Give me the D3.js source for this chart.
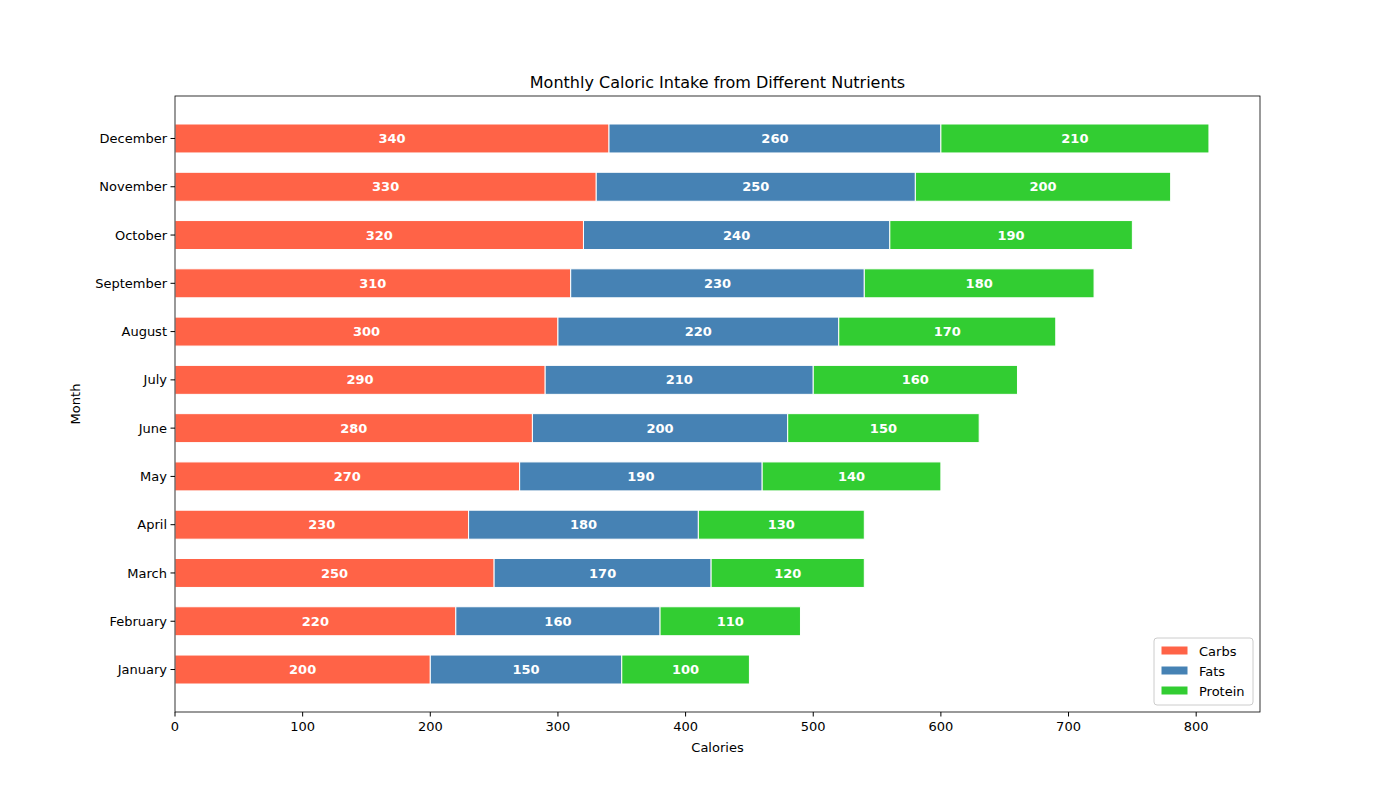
<!DOCTYPE html>
<html><head><meta charset="utf-8">
<script src="https://cdn.jsdelivr.net/npm/d3@7"></script>
<style>body{margin:0;background:#fff;font-family:"DejaVu Sans",sans-serif}</style>
</head><body><svg id="c" width="1400" height="800"></svg>
<script>
const months=["January","February","March","April","May","June","July","August","September","October","November","December"];
const carbs=[200,220,250,230,270,280,290,300,310,320,330,340];
const fats=[150,160,170,180,190,200,210,220,230,240,250,260];
const protein=[100,110,120,130,140,150,160,170,180,190,200,210];
const seriesNames=["Carbs","Fats","Protein"];
const colors=["#FF6347","#4682B4","#32CD32"];
const xTicks=[0,100,200,300,400,500,600,700,800];

const svg=d3.select("#c");
const L=175,R=1260,T=96,B=712;
const x=d3.scaleLinear().domain([0,850]).range([L,R]);
const y=d3.scaleLinear().domain([-0.88,11.88]).range([B,T]);
const bh=y(0)-y(0.6);
const series=[carbs,fats,protein];
months.forEach((m,i)=>{
  let acc=0;
  series.forEach((s,k)=>{
    const v=s[i];
    svg.append("rect").attr("x",x(acc)).attr("y",y(i)-bh/2).attr("width",x(acc+v)-x(acc)).attr("height",bh)
      .attr("fill",colors[k]).attr("stroke","#fff").attr("stroke-width",1);
    svg.append("text").attr("x",x(acc+v/2)).attr("y",y(i)).attr("dy","0.35em").attr("text-anchor","middle")
      .attr("fill","#fff").attr("font-weight","bold").attr("font-size","13px").text(v);
    acc+=v;
  });
});
svg.append("rect").attr("x",L).attr("y",T).attr("width",R-L).attr("height",B-T).attr("fill","none").attr("stroke","#000").attr("stroke-width",0.8);
xTicks.forEach(t=>{
  svg.append("line").attr("x1",x(t)).attr("x2",x(t)).attr("y1",B).attr("y2",B+4.5).attr("stroke","#000");
  svg.append("text").attr("x",x(t)).attr("y",B+19).attr("text-anchor","middle").attr("font-size","13px").text(t);
});
months.forEach((m,i)=>{
  svg.append("line").attr("x1",L-4.5).attr("x2",L).attr("y1",y(i)).attr("y2",y(i)).attr("stroke","#000");
  svg.append("text").attr("x",L-8).attr("y",y(i)).attr("dy","0.35em").attr("text-anchor","end").attr("font-size","13px").text(m);
});
svg.append("text").attr("x",(L+R)/2).attr("y",752).attr("text-anchor","middle").attr("font-size","13px").text("Calories");
svg.append("text").attr("transform",`translate(80,${(T+B)/2}) rotate(-90)`).attr("text-anchor","middle").attr("font-size","13px").text("Month");
svg.append("text").attr("x",(L+R)/2).attr("y",88).attr("text-anchor","middle").attr("font-size","16px").text("Monthly Caloric Intake from Different Nutrients");
const lg=svg.append("g").attr("transform","translate(1154,638)");
lg.append("rect").attr("width",99).attr("height",67).attr("rx",3).attr("fill","#fff").attr("fill-opacity",0.8).attr("stroke","#ccc");
seriesNames.forEach((n,k)=>{
  lg.append("rect").attr("x",7).attr("y",8+k*20).attr("width",27).attr("height",9).attr("fill",colors[k]).attr("stroke","#fff");
  lg.append("text").attr("x",45).attr("y",13+k*20).attr("dy","0.35em").attr("font-size","13px").text(n);
});
</script></body></html>
